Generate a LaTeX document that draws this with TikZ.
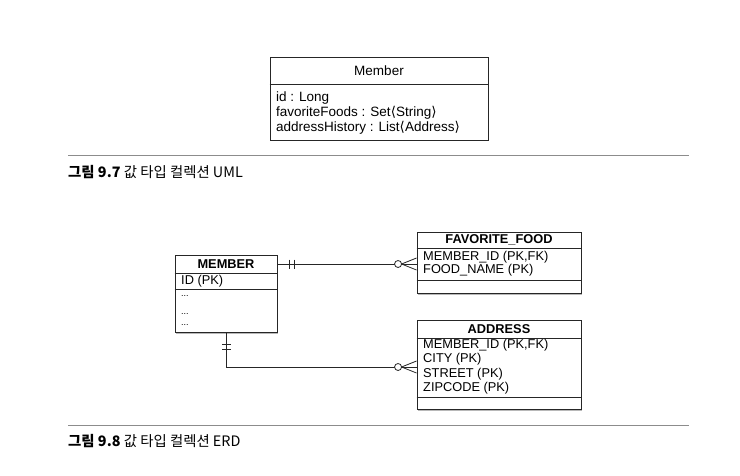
\documentclass[tikz,border=0pt]{standalone}
\usepackage{fontspec}
\setmainfont{Liberation Sans}
\newfontfamily\krfont{Noto Sans CJK KR}
\newfontfamily\symfont{DejaVu Sans}
\usetikzlibrary{shadows}

\newcommand{\lang}{{\symfont\char"27E8}}
\newcommand{\rang}{{\symfont\char"27E9}}

\tikzset{
  box/.style={draw=black!85, line width=0.9pt, inner sep=0pt},
  entity/.style={box, fill=white, drop shadow={shadow xshift=1.2pt, shadow yshift=-1.6pt, fill=black!55}},
  umltext/.style={anchor=west, inner sep=0pt, font=\fontsize{13.5}{15}\selectfont},
  enttext/.style={anchor=west, inner sep=0pt, font=\fontsize{12.8}{14}\selectfont},
  enttitle/.style={inner sep=0pt, font=\fontsize{12.8}{14}\selectfont\bfseries},
  rule/.style={draw=black!45, line width=0.9pt},
  caption/.style={anchor=west, inner sep=0pt, font=\krfont\fontsize{14.4}{16}\selectfont},
  link/.style={draw=black!85, line width=0.8pt},
  pics/onlyone/.style={code={
    \draw[link] (12,-4.5) -- (12,4.5);
    \draw[link] (17,-4.5) -- (17,4.5);
  }},
  pics/zeromany/.style={code={
    \draw[link] (-15,0) -- (0,-6);
    \draw[link] (-15,0) -- (0,6);
    \draw[link, fill=white] (-18.5,0) circle (3.5);
  }}
}

\begin{document}
\begin{tikzpicture}[x=1pt, y=-1pt]
\useasboundingbox[fill=white] (0,0) rectangle (740,475);

% UML class
\node[box, minimum width=218pt, minimum height=83pt] (umlmember) at (379,98.5) {};
\draw[box] (umlmember.west |- 0,84) -- (umlmember.east |- 0,84);
\node[inner sep=0pt, font=\fontsize{13.5}{15}\selectfont] (umlname) at (379,71) {Member};
\node[umltext] (umlid) at (276,98) {id : Long};
\node[umltext] (umlfoods) at (276,113) {favoriteFoods : Set\lang String\rang};
\node[umltext] (umladdr) at (276,128) {addressHistory : List\lang Address\rang};

\draw[rule] (68,155) -- (689,155);
\node[caption] (cap1) at (68,172) {\textbf{그림 9.7} 값 타입 컬렉션 UML};

% ERD
\node[entity, minimum width=102pt, minimum height=77pt] (member) at (226,293.5) {};
\draw[box] (member.west |- 0,273) -- (member.east |- 0,273);
\draw[box] (member.west |- 0,289) -- (member.east |- 0,289);
\node[enttitle] (membername) at (226,264) {MEMBER};
\node[enttext] (memberid) at (181,281) {ID (PK)};
\node[enttext, font=\fontsize{9}{10}\selectfont, anchor=base west] (dots1) at (181,296) {...};
\node[enttext, font=\fontsize{9}{10}\selectfont, anchor=base west] (dots2) at (181,314) {...};
\node[enttext, font=\fontsize{9}{10}\selectfont, anchor=base west] (dots3) at (181,325) {...};

\node[entity, minimum width=164pt, minimum height=61pt] (food) at (499,262.5) {};
\draw[box] (food.west |- 0,248) -- (food.east |- 0,248);
\draw[box] (food.west |- 0,280) -- (food.east |- 0,280);
\node[enttitle] (foodname) at (499,240) {FAVORITE\_FOOD};
\node[enttext] (foodmid) at (423,257) {MEMBER\_ID (PK,FK)};
\node[enttext] (foodfood) at (423,270.5) {FOOD\_NAME (PK)};

\node[entity, minimum width=164pt, minimum height=89pt] (address) at (499,364.5) {};
\draw[box] (address.west |- 0,338) -- (address.east |- 0,338);
\draw[box] (address.west |- 0,397) -- (address.east |- 0,397);
\node[enttitle] (addressname) at (499,329) {ADDRESS};
\node[enttext] (addrmid) at (423,345.5) {MEMBER\_ID (PK,FK)};
\node[enttext] (addrcity) at (423,359.5) {CITY (PK)};
\node[enttext] (addrstreet) at (423,374) {STREET (PK)};
\node[enttext] (addrzip) at (423,388.5) {ZIPCODE (PK)};

% relations
\coordinate (foodin) at ([yshift=-1.5pt]food.west);
\coordinate (addrin) at ([yshift=-2.5pt]address.west);
\draw[link] (member.east |- foodin) -- (foodin);
\draw[link] (member.south) -- (member.south |- addrin) -- (addrin);
\pic at (member.east |- foodin) {onlyone};
\pic[rotate=-90] at (member.south) {onlyone};
\pic at (foodin) {zeromany};
\pic at (addrin) {zeromany};

\draw[rule] (68,425) -- (689,425);
\node[caption] (cap2) at (68,441) {\textbf{그림 9.8} 값 타입 컬렉션 ERD};
\end{tikzpicture}
\end{document}
